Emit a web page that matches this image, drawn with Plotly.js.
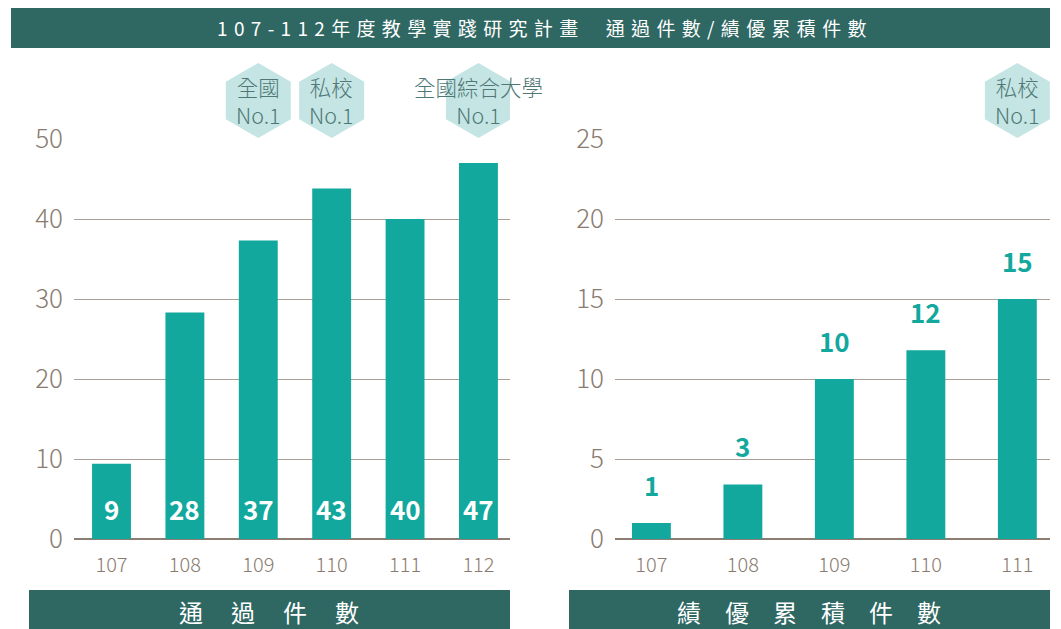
<!DOCTYPE html>
<html>
<head>
<meta charset="utf-8">
<script src="https://cdn.plot.ly/plotly-3.0.1.min.js"></script>
<style>html,body{margin:0;padding:0;background:#fff;}#chart{width:1061px;height:629px;}</style>
</head>
<body>
<div id="chart"></div>
<script>
// ---- data ----
const chartTitle = '107-112年度教學實踐研究計畫  通過件數/績優累積件數';
const leftTitle = '通過件數';
const rightTitle = '績優累積件數';
const leftYears = ['107', '108', '109', '110', '111', '112'];
const leftValues = [9.4, 28.3, 37.3, 43.8, 40, 47];
const leftLabels = ['9', '28', '37', '43', '40', '47'];
const rightYears = ['107', '108', '109', '110', '111'];
const rightValues = [1, 3.4, 10, 11.8, 15];
const rightLabels = ['1', '3', '10', '12', '15'];
const leftBadgeYears = ['109', '110', '112'];
const leftBadgeTexts = ['全國<br>No.1', '私校<br>No.1', '全國綜合大學<br>No.1'];
const rightBadgeYears = ['111'];
const rightBadgeTexts = ['私校<br>No.1'];

// ---- style ----
const W = 1061, H = 629;
const FONT = '"Noto Sans CJK TC", "Noto Sans", sans-serif';
const DARK = '#2f6763';
const TEAL = '#12a89d';
const HEX = '#c4e5e4';
const HEXTEXT = '#4f7874';
const TICK = '#8a7b70';
const GRID = '#aa9e96';
const px = v => v / W;
const py = v => (H - v) / H;

function spaced(s, sep) { return Array.from(s).join(sep); }

const hexPath = 'M 0,37.5 L 32.5,18.75 L 32.5,-18.75 L 0,-37.5 L -32.5,-18.75 L -32.5,18.75 Z';

const traces = [
  { type: 'bar', x: leftYears, y: leftValues, xaxis: 'x', yaxis: 'y',
    width: leftValues.map(() => 0.53), marker: { color: TEAL }, hoverinfo: 'skip' },
  { type: 'bar', x: rightYears, y: rightValues, xaxis: 'x2', yaxis: 'y2',
    width: rightValues.map(() => 0.425), marker: { color: TEAL }, hoverinfo: 'skip' }
];

const shapes = [];
const annotations = [];

// header bar
shapes.push({ type: 'rect', xref: 'paper', yref: 'paper', x0: px(11), x1: px(1050), y0: py(48), y1: py(8),
  fillcolor: DARK, line: { width: 0 }, layer: 'below' });
annotations.push({ xref: 'paper', yref: 'paper', x: px(542), y: py(28), xanchor: 'center', yanchor: 'middle',
  text: spaced(chartTitle, '\u2004'), showarrow: false, font: { family: FONT, size: 19, color: '#ffffff' } });

// footer bars
shapes.push({ type: 'rect', xref: 'paper', yref: 'paper', x0: px(29), x1: px(510), y0: 0, y1: py(590),
  fillcolor: DARK, line: { width: 0 }, layer: 'below' });
shapes.push({ type: 'rect', xref: 'paper', yref: 'paper', x0: px(569), x1: px(1050), y0: 0, y1: py(590),
  fillcolor: DARK, line: { width: 0 }, layer: 'below' });
annotations.push({ xref: 'paper', yref: 'paper', x: px(269), y: py(611), xanchor: 'center', yanchor: 'middle',
  text: spaced(leftTitle, '\u3000\u2006'), showarrow: false, font: { family: FONT, size: 24, color: '#ffffff' } });
annotations.push({ xref: 'paper', yref: 'paper', x: px(809), y: py(611), xanchor: 'center', yanchor: 'middle',
  text: spaced(rightTitle, '\u3000'), showarrow: false, font: { family: FONT, size: 24, color: '#ffffff' } });

// badges
function addBadges(years, texts, cats, xref) {
  years.forEach((yr, i) => {
    const xi = cats.indexOf(yr);
    shapes.push({ type: 'path', xref: xref, yref: 'paper', xsizemode: 'pixel', ysizemode: 'pixel',
      xanchor: xi, yanchor: py(100.5), path: hexPath, fillcolor: HEX, line: { width: 0 }, layer: 'below' });
    annotations.push({ xref: xref, yref: 'paper', x: xi, y: py(100.5), xanchor: 'center', yanchor: 'middle',
      text: texts[i], showarrow: false, font: { family: FONT, size: 21.5, color: HEXTEXT, weight: 300 } });
  });
}
addBadges(leftBadgeYears, leftBadgeTexts, leftYears, 'x');
addBadges(rightBadgeYears, rightBadgeTexts, rightYears, 'x2');

// value labels
leftYears.forEach((yr, i) => {
  annotations.push({ xref: 'x', yref: 'y', x: i, y: 0, yshift: 31, xanchor: 'center', yanchor: 'middle',
    text: leftLabels[i], showarrow: false, font: { family: FONT, size: 26, color: '#ffffff', weight: 'bold' } });
});
rightYears.forEach((yr, i) => {
  annotations.push({ xref: 'x2', yref: 'y2', x: i, y: rightValues[i], yshift: 39, xanchor: 'center', yanchor: 'middle',
    text: rightLabels[i], showarrow: false, font: { family: FONT, size: 26, color: TEAL, weight: 'bold' } });
});

const yCommon = {
  showgrid: true, gridcolor: GRID, gridwidth: 1,
  zeroline: true, zerolinecolor: '#8c7d72', zerolinewidth: 2,
  showline: false, ticks: '', ticklabelstandoff: 10,
  tickfont: { family: FONT, size: 26, color: TICK, weight: 300 },
  domain: [py(539), py(139)], fixedrange: true
};
const xCommon = {
  type: 'category', showgrid: false, zeroline: false, showline: false, ticks: '',
  ticklabelstandoff: 12,
  tickfont: { family: FONT, size: 20, color: TICK, weight: 300 }, fixedrange: true
};

const layout = {
  width: W, height: H,
  margin: { l: 0, r: 0, t: 0, b: 0 },
  paper_bgcolor: '#ffffff', plot_bgcolor: 'rgba(0,0,0,0)',
  showlegend: false,
  xaxis: Object.assign({}, xCommon, { domain: [px(74), px(510)], range: [-0.511, 5.43], anchor: 'y' }),
  yaxis: Object.assign({}, yCommon, { range: [0, 50], dtick: 10, anchor: 'x' }),
  xaxis2: Object.assign({}, xCommon, { domain: [px(615), px(1050)], range: [-0.398, 4.357], anchor: 'y2' }),
  yaxis2: Object.assign({}, yCommon, { range: [0, 25], dtick: 5, anchor: 'x2' }),
  shapes: shapes,
  annotations: annotations
};

Plotly.newPlot('chart', traces, layout, { staticPlot: true, displayModeBar: false });
</script>
</body>
</html>
